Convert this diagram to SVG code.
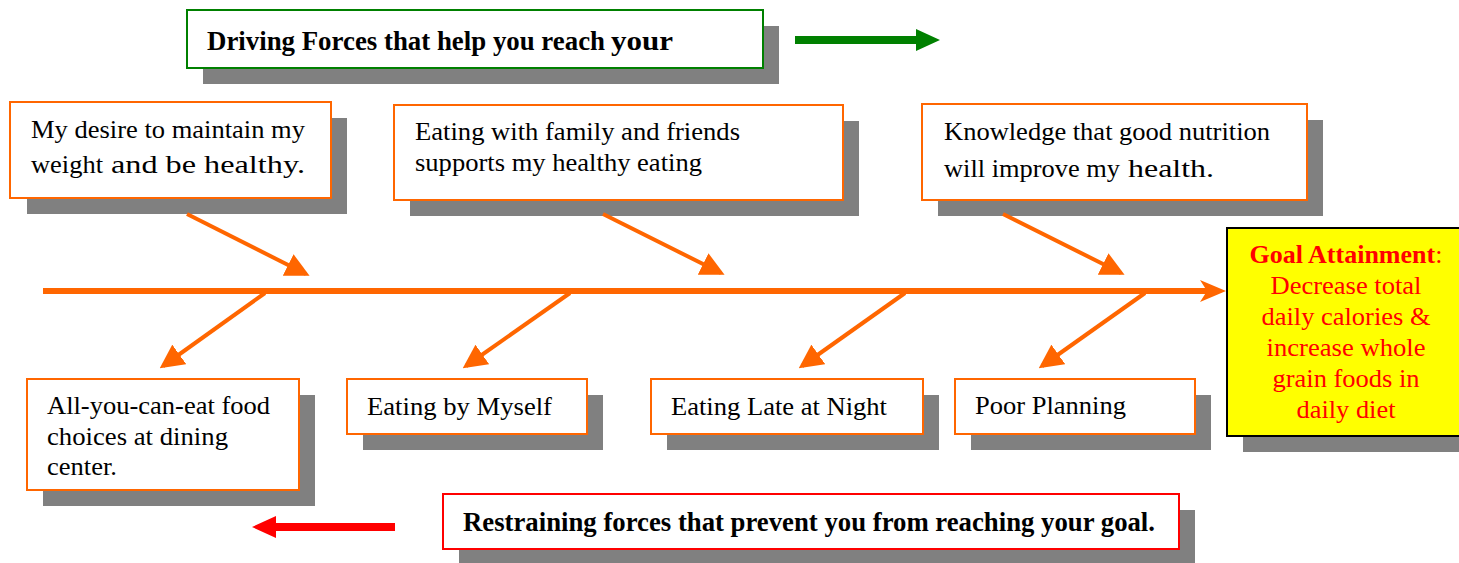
<svg xmlns="http://www.w3.org/2000/svg" width="1459" height="563" viewBox="0 0 1459 563">
<style>
.shadow{fill:#808080}
.box{fill:#fff;stroke:#FF6600;stroke-width:2}
.t{font-family:"Liberation Serif","Times New Roman",serif;font-size:26px;fill:#000}
.tb{font-family:"Liberation Serif","Times New Roman",serif;font-size:27px;font-weight:bold;fill:#000}
.g{font-family:"Liberation Serif","Times New Roman",serif;font-size:26px;fill:#FF0000;text-anchor:middle}
.bone{stroke:#FF6600;stroke-width:4;fill:none;marker-end:url(#ah)}
</style>
<defs>
<marker id="ah" markerWidth="6" markerHeight="6" refX="5" refY="3" orient="auto" markerUnits="strokeWidth">
<path d="M0,0 L6,3 L0,6 Z" fill="#FF6600"/>
</marker>
</defs>
<rect width="1459" height="563" fill="#fff"/>

<g id="title-driving">
<rect class="shadow" x="203" y="26" width="576" height="58"/>
<rect x="187" y="10" width="576" height="58" fill="#fff" stroke="#008000" stroke-width="2"/>
<text class="tb" x="207" y="50" textLength="398" lengthAdjust="spacingAndGlyphs">Driving Forces that help you reach</text>
<text class="tb" x="611" y="50" font-size="33" textLength="62" lengthAdjust="spacingAndGlyphs">your</text>
</g>

<g id="arrow-green">
<path d="M795,36 L916,36 L916,29 L940,40 L916,51 L916,44 L795,44 Z" fill="#008000"/>
</g>

<g id="d1">
<rect class="shadow" x="27" y="118" width="320" height="96"/>
<rect class="box" x="10" y="102" width="321" height="96"/>
<text class="t" x="31" y="138" textLength="274" lengthAdjust="spacingAndGlyphs">My desire to maintain my</text>
<text class="t" x="31" y="173" textLength="72" lengthAdjust="spacingAndGlyphs">weight</text>
<text class="t" x="111" y="173" font-size="32" textLength="194" lengthAdjust="spacingAndGlyphs">and be healthy.</text>
</g>

<g id="d2">
<rect class="shadow" x="410" y="121" width="449" height="95"/>
<rect class="box" x="394" y="105" width="449" height="95"/>
<text class="t" x="415" y="140" textLength="325" lengthAdjust="spacingAndGlyphs">Eating with family and friends</text>
<text class="t" x="415" y="171" textLength="287" lengthAdjust="spacingAndGlyphs">supports my healthy eating</text>
</g>

<g id="d3">
<rect class="shadow" x="938" y="120" width="385" height="96"/>
<rect class="box" x="922" y="104" width="385" height="96"/>
<text class="t" x="944" y="140" textLength="326" lengthAdjust="spacingAndGlyphs">Knowledge that good nutrition</text>
<text class="t" x="944" y="177" textLength="176" lengthAdjust="spacingAndGlyphs">will improve my</text>
<text class="t" x="1128" y="177" font-size="32" textLength="86" lengthAdjust="spacingAndGlyphs">health.</text>
</g>

<g id="goal">
<rect class="shadow" x="1243" y="244" width="236" height="208"/>
<rect x="1227" y="228" width="236" height="208" fill="#FFFF00" stroke="#000" stroke-width="2"/>
<text class="g" x="1346" y="263"><tspan font-weight="bold">Goal Attainment</tspan>:</text>
<text class="g" x="1346" y="294" textLength="151" lengthAdjust="spacingAndGlyphs">Decrease total</text>
<text class="g" x="1346" y="325" textLength="169" lengthAdjust="spacingAndGlyphs">daily calories &amp;</text>
<text class="g" x="1346" y="356" textLength="159" lengthAdjust="spacingAndGlyphs">increase whole</text>
<text class="g" x="1346" y="387" textLength="147" lengthAdjust="spacingAndGlyphs">grain foods in</text>
<text class="g" x="1346" y="418" textLength="99" lengthAdjust="spacingAndGlyphs">daily diet</text>
</g>

<g id="connectors">
<line x1="43" y1="291" x2="1212" y2="291" stroke="#FF6600" stroke-width="6"/>
<path d="M1200,280 L1226,291 L1200,302 L1207,291 Z" fill="#FF6600"/>
<line class="bone" x1="187" y1="214" x2="306" y2="274"/>
<line class="bone" x1="603" y1="214" x2="721" y2="273"/>
<line class="bone" x1="1003" y1="214" x2="1121" y2="273"/>
<line class="bone" x1="265" y1="293" x2="163" y2="366"/>
<line class="bone" x1="570" y1="293" x2="466" y2="366"/>
<line class="bone" x1="905" y1="293" x2="802" y2="366"/>
<line class="bone" x1="1145" y1="293" x2="1042" y2="366"/>
</g>

<g id="r1">
<rect class="shadow" x="43" y="395" width="272" height="111"/>
<rect class="box" x="27" y="379" width="272" height="111"/>
<text class="t" x="47" y="414" textLength="223" lengthAdjust="spacingAndGlyphs">All-you-can-eat food</text>
<text class="t" x="47" y="445" textLength="181" lengthAdjust="spacingAndGlyphs">choices at dining</text>
<text class="t" x="47" y="475" textLength="70" lengthAdjust="spacingAndGlyphs">center.</text>
</g>

<g id="r2">
<rect class="shadow" x="363" y="395" width="240" height="55"/>
<rect class="box" x="347" y="379" width="240" height="55"/>
<text class="t" x="367" y="415" textLength="185" lengthAdjust="spacingAndGlyphs">Eating by Myself</text>
</g>

<g id="r3">
<rect class="shadow" x="667" y="395" width="272" height="55"/>
<rect class="box" x="651" y="379" width="272" height="55"/>
<text class="t" x="671" y="415" textLength="216" lengthAdjust="spacingAndGlyphs">Eating Late at Night</text>
</g>

<g id="r4">
<rect class="shadow" x="971" y="395" width="240" height="55"/>
<rect class="box" x="955" y="379" width="240" height="55"/>
<text class="t" x="975" y="414" textLength="151" lengthAdjust="spacingAndGlyphs">Poor Planning</text>
</g>

<g id="title-restraining">
<rect class="shadow" x="459" y="510" width="736" height="55"/>
<rect x="443" y="494" width="736" height="55" fill="#fff" stroke="#FF0000" stroke-width="2"/>
<text class="tb" x="463" y="531" textLength="692" lengthAdjust="spacingAndGlyphs">Restraining forces that prevent you from reaching your goal.</text>
</g>

<g id="arrow-red">
<path d="M395,523 L276,523 L276,516 L252,527 L276,538 L276,531 L395,531 Z" fill="#FF0000"/>
</g>
</svg>
